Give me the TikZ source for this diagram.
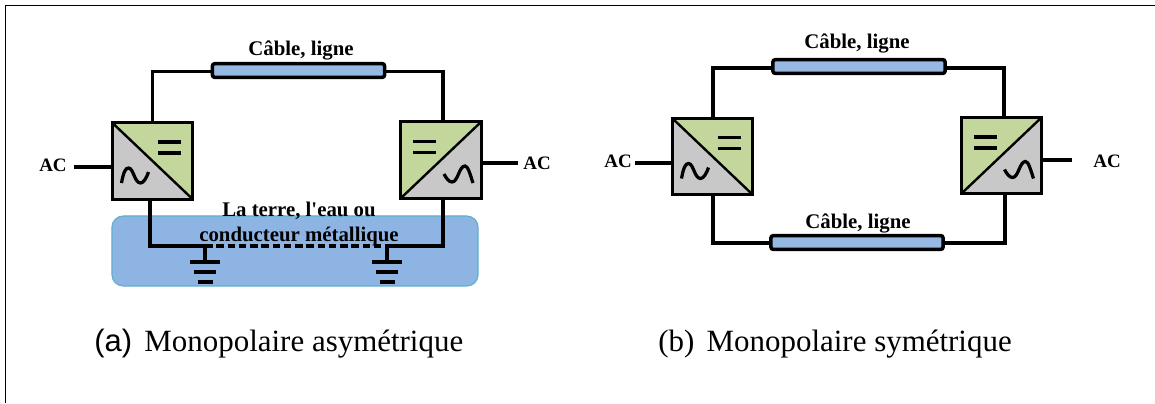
\documentclass[tikz,border=0pt]{standalone}
\usepackage{fontspec}
\setmainfont{Liberation Serif}
\newfontfamily\capsans{Liberation Sans}
\usetikzlibrary{calc}
\definecolor{dcgreen}{HTML}{C3D69B}
\definecolor{acgray}{HTML}{C8C8C8}
\definecolor{cableblue}{HTML}{95B9E3}
\definecolor{earthblue}{HTML}{8EB4E3}
\definecolor{earthedge}{HTML}{5FB0CC}
\tikzset{
  wire/.style={line width=2.5pt},
  aclabel/.style={font=\fontsize{13.5}{14}\selectfont\bfseries, inner sep=0pt},
  labeltext/.style={font=\fontsize{14.8}{17.7}\selectfont\bfseries, inner sep=0pt},
  captiontext/.style={font=\fontsize{22}{24}\selectfont, inner sep=0pt, anchor=west},
  conv/.style={draw=none, minimum width=2cm, minimum height=1.9cm, inner sep=0pt},
  cable/.style={draw, line width=2.5pt, fill=cableblue, rounded corners=1.5pt, minimum width=4.3cm, minimum height=0.34cm, inner sep=0pt}
}
\newcommand{\convleft}[1]{
  \fill[acgray] (#1.north west) -- (#1.south east) -- (#1.south west) -- cycle;
  \fill[dcgreen] (#1.north west) -- (#1.north east) -- (#1.south east) -- cycle;
  \draw[line width=2.2pt] (#1.north west) rectangle (#1.south east);
  \draw[line width=1.7pt] (#1.north west) -- (#1.south east);
  \begin{scope}[shift={(#1.center)}]
    \draw[wire] (5,-19) -- (28,-19);
    \draw[wire] (5,-8) -- (28,-8);
    \draw[line width=2.3pt] (-31,22) .. controls (-29,11) and (-27,7) .. (-24,7) .. controls (-19,7) and (-18,22) .. (-12,22) .. controls (-9,22) and (-6,17) .. (-4,11);
  \end{scope}
}
\newcommand{\convright}[1]{
  \fill[acgray] (#1.north east) -- (#1.south east) -- (#1.south west) -- cycle;
  \fill[dcgreen] (#1.north west) -- (#1.north east) -- (#1.south west) -- cycle;
  \draw[line width=2.2pt] (#1.north west) rectangle (#1.south east);
  \draw[line width=1.7pt] (#1.north east) -- (#1.south west);
  \begin{scope}[shift={(#1.center)}]
    \draw[wire] (-28,-18.5) -- (-5,-18.5);
    \draw[wire] (-28,-7.5) -- (-5,-7.5);
    \draw[line width=2.3pt] (3,14) .. controls (5,18) and (8,22) .. (11,22) .. controls (17,22) and (18,6) .. (24,6) .. controls (27,6) and (29,14) .. (32,23);
  \end{scope}
}
\newcommand{\earth}[1]{
  \draw[wire] (#1) -- ++(0,16);
  \draw[wire] ($(#1)+(-15,16)$) -- ++(30,0);
  \draw[wire] ($(#1)+(-11,26)$) -- ++(22,0);
  \draw[wire] ($(#1)+(-7.5,36)$) -- ++(15,0);
}
\begin{document}
\begin{tikzpicture}[x=0.025cm,y=-0.025cm]
  \useasboundingbox (0,0) rectangle (1155,403);
  % Frame
  \draw[line width=1.4pt] (5.5,403) -- (5.5,5.5) -- (1155,5.5);

  % Ground plane
  \node[draw=earthedge, line width=0.8pt, fill=earthblue, rounded corners=8pt, minimum width=9.15cm, minimum height=1.75cm, inner sep=0pt] (terre) at (295,251) {};

  % Converters
  \node[conv] (ca) at (152.5,161) {};
  \node[conv] (cb) at (441,160) {};
  \node[conv] (cc) at (712.5,156.5) {};
  \node[conv] (cd) at (1001.5,155.5) {};
  \convleft{ca}
  \convright{cb}
  \convleft{cc}
  \convright{cd}

  % Cables
  \node[cable] (la) at (298.5,70.5) {};
  \node[cable] (lb) at (859,66.5) {};
  \node[cable] (lc) at (857,242.5) {};

  % Wires of (a)
  \coordinate (ta1) at (152.5,71.5);
  \coordinate (ta2) at (443,71.5);
  \coordinate (ga) at (205,246);
  \coordinate (gb) at (387,246);
  \coordinate (ba1) at (150,246);
  \coordinate (ba2) at (443,246);
  \draw[wire] (ca.north -| ta1) -- (ta1) -- (ta1 -| la.west);
  \draw[wire] (ta1 -| la.east) -- (ta2) -- (cb.north -| ta2);
  \draw[wire] (ca.south -| ba1) -- (ba1) -- (ga);
  \draw[wire] (cb.south -| ba2) -- (ba2) -- (gb);
  \draw[wire, dash pattern=on 5.5pt off 2.5pt] (ga) -- (gb);
  \earth{ga}
  \earth{gb}

  % Wires of (b)
  \coordinate (tb1) at (713,68);
  \coordinate (tb2) at (1004,68);
  \coordinate (bb1) at (713,243);
  \coordinate (bb2) at (1005,243);
  \draw[wire] (cc.north -| tb1) -- (tb1) -- (tb1 -| lb.west);
  \draw[wire] (tb1 -| lb.east) -- (tb2) -- (cd.north -| tb2);
  \draw[wire] (cc.south -| bb1) -- (bb1) -- (bb1 -| lc.west);
  \draw[wire] (bb1 -| lc.east) -- (bb2) -- (cd.south -| bb2);

  % AC links
  \node[aclabel] (aca) at (53,165) {AC};
  \node[aclabel] (acb) at (537,163) {AC};
  \node[aclabel] (acc) at (618,161.5) {AC};
  \node[aclabel] (acd) at (1107,161.5) {AC};
  \coordinate (fa) at (74,167);
  \coordinate (fb) at (517.5,163);
  \coordinate (fc) at (635,163);
  \coordinate (fd) at (1072,160);
  \draw[wire] (fa) -- (fa -| ca.west);
  \draw[wire] (fb) -- (fb -| cb.east);
  \draw[wire] (fc) -- (fc -| cc.west);
  \draw[wire] (fd) -- (fd -| cd.east);

  % Labels
  \node[labeltext] (ta) at (301,50) {Câble, ligne};
  \node[labeltext] (tb) at (857,43) {Câble, ligne};
  \node[labeltext] (tc) at (858,223) {Câble, ligne};
  \node[labeltext, align=center] (tt) at (299,224) {La terre, l\textquotesingle eau ou\\conducteur métallique};

  % Captions
  \node[captiontext] (capa) at (94,344) {{\capsans (a)}\hspace{0.4em}Monopolaire asymétrique};
  \node[captiontext] (capb) at (658,344) {(b)\hspace{0.4em}Monopolaire symétrique};
\end{tikzpicture}
\end{document}
